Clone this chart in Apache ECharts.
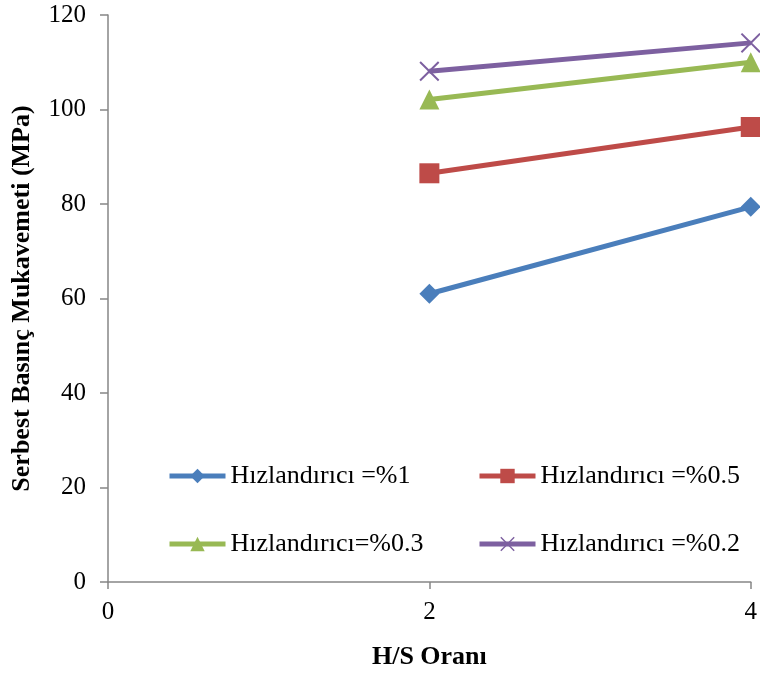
<!DOCTYPE html>
<html>
<head>
<meta charset="utf-8">
<script src="https://cdn.jsdelivr.net/npm/echarts@6/dist/echarts.min.js"></script>
<style>
  html, body { margin: 0; padding: 0; background: #fff; }
  #chart { width: 760px; height: 675px; }
</style>
</head>
<body>
<div id="chart"></div>
<script>
// H/S ratio values on the x axis
const hsRatio = [2, 4];

// Unconfined compressive strength (MPa) for each accelerator dosage
const names = ['Hızlandırıcı =%1', 'Hızlandırıcı =%0.5', 'Hızlandırıcı=%0.3', 'Hızlandırıcı =%0.2'];
const strength1 = [61.0, 79.4];
const strength05 = [86.5, 96.3];
const strength03 = [102.1, 110.0];
const strength02 = [108.1, 114.1];

const colors = ['#4A7EBB', '#BE4B48', '#98B954', '#7D60A0'];
const crossPath = 'path://M0,0.7L0.7,0L5,4.3L9.3,0L10,0.7L5.7,5L10,9.3L9.3,10L5,5.7L0.7,10L0,9.3L4.3,5Z';
const symbols = ['diamond', 'rect', 'triangle', crossPath];
const symbolSizes = [20, 20, 20, 20];
const seriesValues = [strength1, strength05, strength03, strength02];

const font = '"Liberation Serif", "Times New Roman", serif';

const chart = echarts.init(document.getElementById('chart'), null, { renderer: 'canvas' });

const series = seriesValues.map((vals, i) => ({
  name: names[i],
  type: 'line',
  data: hsRatio.map((x, j) => [x, vals[j]]),
  symbol: symbols[i],
  symbolSize: symbolSizes[i],
  showAllSymbol: true,
  clip: false,
  lineStyle: { color: colors[i], width: 5 },
  itemStyle: { color: colors[i] },
  emphasis: { disabled: true },
  z: 10 - i
}));

function legendAt(i, left, top) {
  return {
    data: [names[i]],
    left: left,
    top: top,
    itemWidth: 56,
    itemHeight: 18,
    itemGap: 0,
    padding: 0,
    lineStyle: { width: 5 },
    textStyle: { fontFamily: font, fontSize: 26, color: '#000' },
    selectedMode: false
  };
}

chart.setOption({
  animation: false,
  color: colors,
  grid: { left: 108, right: 7, top: 15, bottom: 91 },
  legend: [
    legendAt(0, 167, 463),
    legendAt(1, 477, 463),
    legendAt(2, 167, 531),
    legendAt(3, 477, 531)
  ],
  xAxis: {
    type: 'value',
    min: 0,
    max: 4,
    interval: 2,
    name: 'H/S Oranı',
    nameLocation: 'middle',
    nameGap: 62,
    nameTextStyle: { fontFamily: font, fontSize: 26, fontWeight: 'bold', color: '#000' },
    axisLine: { show: true, lineStyle: { color: '#868686', width: 1.5 } },
    axisTick: { show: true, length: 7, lineStyle: { color: '#868686', width: 1.5 } },
    axisLabel: { fontFamily: font, fontSize: 25, color: '#000', margin: 18 },
    splitLine: { show: false }
  },
  yAxis: {
    type: 'value',
    min: 0,
    max: 120,
    interval: 20,
    name: 'Serbest Basınç Mukavemeti (MPa)',
    nameLocation: 'middle',
    nameGap: 73,
    nameTextStyle: { fontFamily: font, fontSize: 26, fontWeight: 'bold', color: '#000' },
    axisLine: { show: true, lineStyle: { color: '#868686', width: 1.5 } },
    axisTick: { show: true, length: 8, lineStyle: { color: '#868686', width: 1.5 } },
    axisLabel: { fontFamily: font, fontSize: 25, color: '#000', margin: 22 },
    splitLine: { show: false }
  },
  series: series
});
</script>
</body>
</html>
